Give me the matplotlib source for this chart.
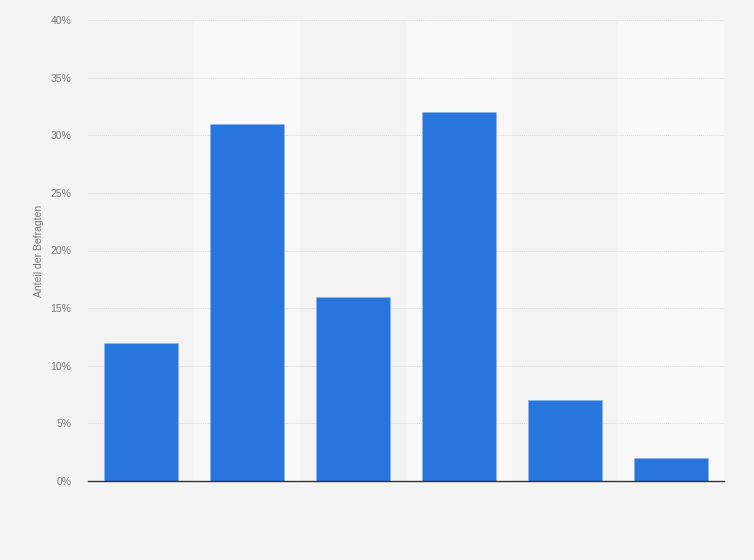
import matplotlib
matplotlib.use("Agg")
import matplotlib.pyplot as plt
import numpy as np

categories = ["Kategorie 1", "Kategorie 2", "Kategorie 3", "Kategorie 4", "Kategorie 5", "Kategorie 6"]
values = [12, 31, 16, 32, 7, 2]
yticks = [0, 5, 10, 15, 20, 25, 30, 35, 40]
ytick_labels = [f"{t}%" for t in yticks]

plt.rcParams["font.family"] = ["Liberation Sans", "DejaVu Sans"]

fig = plt.figure(figsize=(7.54, 5.6), dpi=100)
fig.patch.set_facecolor("#f4f4f4")
ax = fig.add_axes([88/754, 79/560, (724-88)/754, (481-20)/560])
ax.set_facecolor("#f3f3f3")

x = np.arange(len(categories))
for i in x:
    ax.axvspan(i - 0.5, i + 0.5, color="#f3f3f3" if i % 2 == 0 else "#f9f9f9", zorder=0, lw=0)

ax.bar(x, values, width=0.69, color="#2876dd", edgecolor="#8fb6ec", linewidth=0.4, zorder=3)

ax.set_xlim(-0.5, len(categories) - 0.5)
ax.set_ylim(0, 40)
ax.set_yticks(yticks)
ax.set_yticklabels(ytick_labels, fontsize=7.5, color="#777777")
ax.set_xticks(x)
ax.set_xticklabels([""] * len(categories))
ax.tick_params(axis="both", length=0, pad=12)
ax.yaxis.grid(True, color="#d4d4d4", linestyle=(0, (1, 1)), linewidth=0.7, zorder=1)
ax.set_axisbelow(True)
for s in ["top", "right", "left"]:
    ax.spines[s].set_visible(False)
ax.spines["bottom"].set_color("#333333")
ax.spines["bottom"].set_linewidth(1)
ax.spines["bottom"].set_zorder(4)
ax.set_ylabel("Anteil der Befragten", fontsize=7.5, color="#777777")
ax.yaxis.set_label_coords(-0.069, 0.5)

fig.savefig("out.png", dpi=100, facecolor=fig.get_facecolor())
